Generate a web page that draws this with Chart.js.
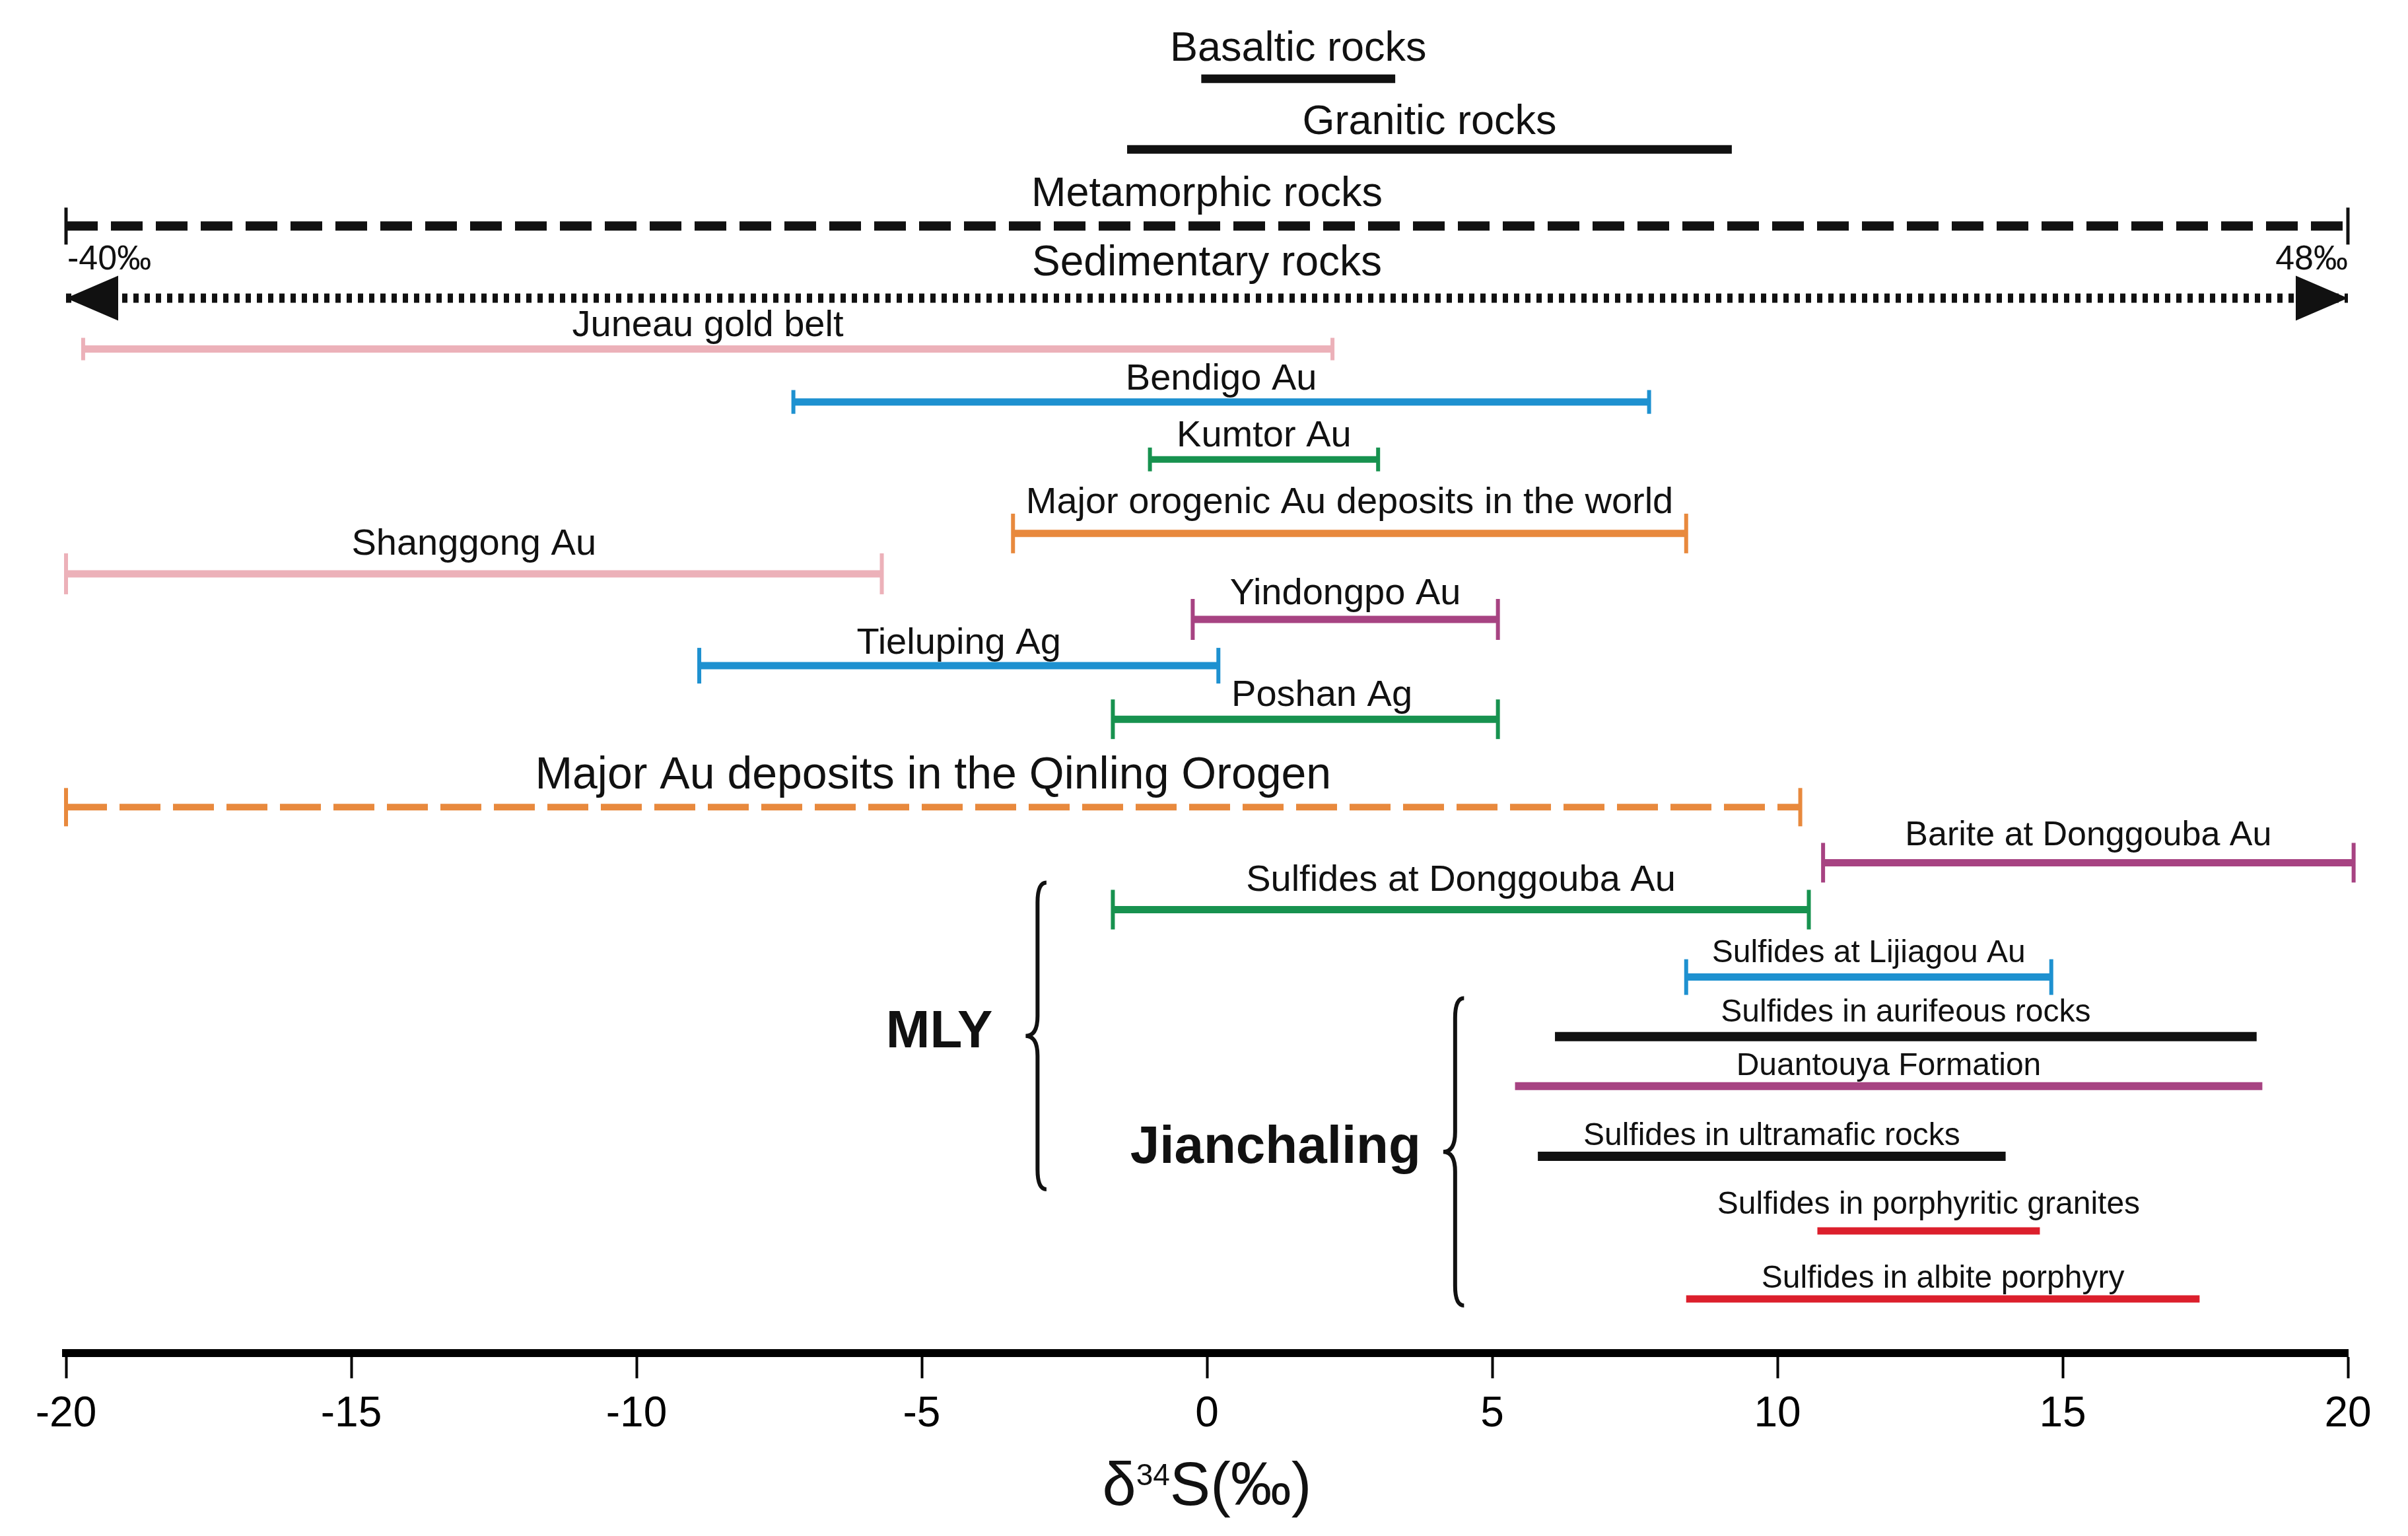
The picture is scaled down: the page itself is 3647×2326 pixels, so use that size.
<!DOCTYPE html>
<html>
<head>
<meta charset="utf-8">
<script src="https://cdn.jsdelivr.net/npm/chart.js@4.4.0/dist/chart.umd.min.js"></script>
<style>
	body { margin: 0; background: #fff; }
	canvas { display: block; }
</style>
</head>
<body>
<canvas id="myChart" width="3647" height="2326"></canvas>
<script>
const names = [
	'Basaltic rocks', 'Granitic rocks', 'Metamorphic rocks', 'Sedimentary rocks',
	'Juneau gold belt', 'Bendigo Au', 'Kumtor Au', 'Major orogenic Au deposits in the world',
	'Shanggong Au', 'Yindongpo Au', 'Tieluping Ag', 'Poshan Ag',
	'Major Au deposits in the Qinling Orogen', 'Barite at Donggouba Au', 'Sulfides at Donggouba Au',
	'Sulfides at Lijiagou Au', 'Sulfides in aurifeous rocks', 'Duantouya Formation',
	'Sulfides in ultramafic rocks', 'Sulfides in porphyritic granites', 'Sulfides in albite porphyry',
]
const lowValues = [-0.1, -1.4, -20, -20, -19.7, -7.25, -1, -3.4, -20, -0.25, -8.9, -1.65, -20, 10.8, -1.65, 8.4, 6.1, 5.4, 5.8, 10.7, 8.4]
const highValues = [3.3, 9.2, 20, 20, 2.2, 7.75, 3, 8.4, -5.7, 5.1, 0.2, 5.1, 10.4, 20.1, 10.55, 14.8, 18.4, 18.5, 14, 14.6, 17.4]
// row of each range, top to bottom
const rowLevel = [1.19, 2.26, 3.42, 4.51, 5.28, 6.08, 6.95, 8.07, 8.68, 9.37, 10.07, 10.88, 12.21, 13.05, 13.76, 14.78, 15.68, 16.43, 17.49, 18.62, 19.65]
const rangeNotes = ['-40‰', '48‰']
const groupNames = ['MLY', 'Jianchaling']
const groupX = [-2.97, 4.35]
const groupTop = [13.35, 15.1]
const groupBottom = [17.99, 19.75]
const xTicks = [-20, -15, -10, -5, 0, 5, 10, 15, 20]

const BLACK = '#111111'
const PINK = '#ECB1B9'
const BLUE = '#1E91D0'
const GREEN = '#17924F'
const ORANGE = '#E8893D'
const PURPLE = '#A74382'
const RED = '#DC1F2C'
const FONT = '"Liberation Sans", Arial, sans-serif'

const styles = [
	{ color: BLACK, width: 13, cap: 0, font: 63, gap: 45 },
	{ color: BLACK, width: 13, cap: 0, font: 63, gap: 41 },
	{ color: BLACK, width: 14, cap: 28, dash: [48, 20], font: 63, gap: 48 },
	{ color: BLACK, width: 14, cap: 0, dash: [8, 9], font: 64, gap: 52 },
	{ color: PINK, width: 11, cap: 17, font: 56, gap: 35 },
	{ color: BLUE, width: 11, cap: 18, font: 56, gap: 34 },
	{ color: GREEN, width: 10, cap: 18, font: 56, gap: 35 },
	{ color: ORANGE, width: 11, cap: 30, font: 56, gap: 46 },
	{ color: PINK, width: 11, cap: 31, font: 56, gap: 44 },
	{ color: PURPLE, width: 11, cap: 31, font: 56, gap: 38 },
	{ color: BLUE, width: 11, cap: 27, font: 56, gap: 34 },
	{ color: GREEN, width: 11, cap: 30, font: 56, gap: 36, shift: 25 },
	{ color: ORANGE, width: 10, cap: 29, dash: [62, 19], font: 68, gap: 47 },
	{ color: PURPLE, width: 11, cap: 30, font: 52, gap: 41 },
	{ color: GREEN, width: 11, cap: 30, font: 56, gap: 44 },
	{ color: BLUE, width: 11, cap: 27, font: 48, gap: 36 },
	{ color: BLACK, width: 14, cap: 0, font: 48, gap: 36 },
	{ color: PURPLE, width: 12, cap: 0, font: 48, gap: 30 },
	{ color: BLACK, width: 14, cap: 0, font: 48, gap: 30 },
	{ color: RED, width: 11, cap: 0, font: 48, gap: 39 },
	{ color: RED, width: 11, cap: 0, font: 48, gap: 30 },
]

const datasets = names.map((name, i) => {
	const s = styles[i]
	return {
		label: name,
		data: [{ x: lowValues[i], y: rowLevel[i] }, { x: highValues[i], y: rowLevel[i] }],
		showLine: true,
		borderColor: s.color,
		borderWidth: s.width,
		borderDash: s.dash || [],
		pointStyle: 'line',
		pointRotation: 90,
		pointRadius: s.cap,
		pointHoverRadius: s.cap,
		pointBorderWidth: i == 2 ? 5 : 6,
		pointBorderColor: s.color,
		pointBackgroundColor: s.color,
		clip: false,
	}
})

function drawBrace(ctx, x, top, bottom, w) {
	const mid = (top + bottom) / 2
	ctx.beginPath()
	ctx.moveTo(x + w * 0.45, top)
	ctx.quadraticCurveTo(x, top, x, top + w)
	ctx.lineTo(x, mid - w)
	ctx.quadraticCurveTo(x, mid, x - w * 0.6, mid)
	ctx.quadraticCurveTo(x, mid, x, mid + w)
	ctx.lineTo(x, bottom - w)
	ctx.quadraticCurveTo(x, bottom, x + w * 0.45, bottom)
	ctx.stroke()
}

const annotations = {
	id: 'annotations',
	afterDatasetsDraw(chart) {
		const { ctx, chartArea, scales: { x, y } } = chart
		ctx.save()
		ctx.fillStyle = BLACK
		ctx.textAlign = 'center'
		ctx.textBaseline = 'middle'

		// range labels
		names.forEach((name, i) => {
			const s = styles[i]
			ctx.font = s.font + 'px ' + FONT
			const cx = (x.getPixelForValue(lowValues[i]) + x.getPixelForValue(highValues[i])) / 2
			ctx.fillText(name, cx + (s.shift || 0), y.getPixelForValue(rowLevel[i]) - s.gap)
		})

		// arrow heads on sedimentary rocks
		const ay = y.getPixelForValue(rowLevel[3])
		const xl = x.getPixelForValue(-20)
		const xr = x.getPixelForValue(20)
		ctx.beginPath()
		ctx.moveTo(xl, ay)
		ctx.lineTo(xl + 79, ay - 34)
		ctx.lineTo(xl + 79, ay + 34)
		ctx.closePath()
		ctx.moveTo(xr, ay)
		ctx.lineTo(xr - 79, ay - 34)
		ctx.lineTo(xr - 79, ay + 34)
		ctx.closePath()
		ctx.fill()

		// end values of metamorphic rocks
		const ny = y.getPixelForValue(rowLevel[2]) + 51
		ctx.font = '52px ' + FONT
		ctx.textAlign = 'left'
		ctx.fillText(rangeNotes[0], xl + 2, ny)
		ctx.textAlign = 'right'
		ctx.fillText(rangeNotes[1], xr, ny)

		// braces
		ctx.strokeStyle = BLACK
		ctx.lineWidth = 6
		ctx.font = 'bold 80px ' + FONT
		const labelGap = [68, 52]
		groupNames.forEach((g, i) => {
			const bx = x.getPixelForValue(groupX[i])
			const top = y.getPixelForValue(groupTop[i])
			const bottom = y.getPixelForValue(groupBottom[i])
			drawBrace(ctx, bx, top, bottom, 30)
			ctx.fillText(g, bx - labelGap[i], (top + bottom) / 2 - 5)
		})

		// axis title with superscript
		const base = chartArea.bottom + 230
		const big = '92px ' + FONT
		const small = '46px ' + FONT
		ctx.textAlign = 'left'
		ctx.textBaseline = 'alphabetic'
		ctx.font = big
		const w1 = ctx.measureText('δ').width
		const w3 = ctx.measureText('S(‰)').width
		ctx.font = small
		const w2 = ctx.measureText('34').width
		let tx = (chartArea.left + chartArea.right) / 2 - (w1 + w2 + w3) / 2
		ctx.font = big
		ctx.fillText('δ', tx, base)
		tx += w1
		ctx.font = small
		ctx.fillText('34', tx, base - 30)
		tx += w2
		ctx.font = big
		ctx.fillText('S(‰)', tx, base)
		ctx.restore()
	},
}

const myChart = new Chart(document.getElementById('myChart'), {
	type: 'scatter',
	data: { datasets: datasets },
	plugins: [annotations],
	options: {
		responsive: false,
		animation: false,
		events: [],
		layout: {
			autoPadding: false,
			padding: { left: 100, right: 91, top: 0, bottom: 128 },
		},
		plugins: {
			legend: { display: false },
			tooltip: { enabled: false },
		},
		scales: {
			x: {
				type: 'linear',
				min: -20,
				max: 20,
				afterBuildTicks: (axis) => {
					axis.ticks = xTicks.map((v) => ({ value: v }))
				},
				grid: {
					drawOnChartArea: false,
					drawTicks: true,
					tickLength: 38,
					tickWidth: 4,
					tickColor: '#000',
				},
				border: { display: true, color: '#000', width: 12 },
				ticks: {
					color: '#000',
					padding: 17,
					font: { size: 64, family: FONT },
				},
			},
			y: {
				type: 'linear',
				display: false,
				reverse: true,
				min: 0,
				max: 20.47,
			},
		},
	},
})
</script>
</body>
</html>
